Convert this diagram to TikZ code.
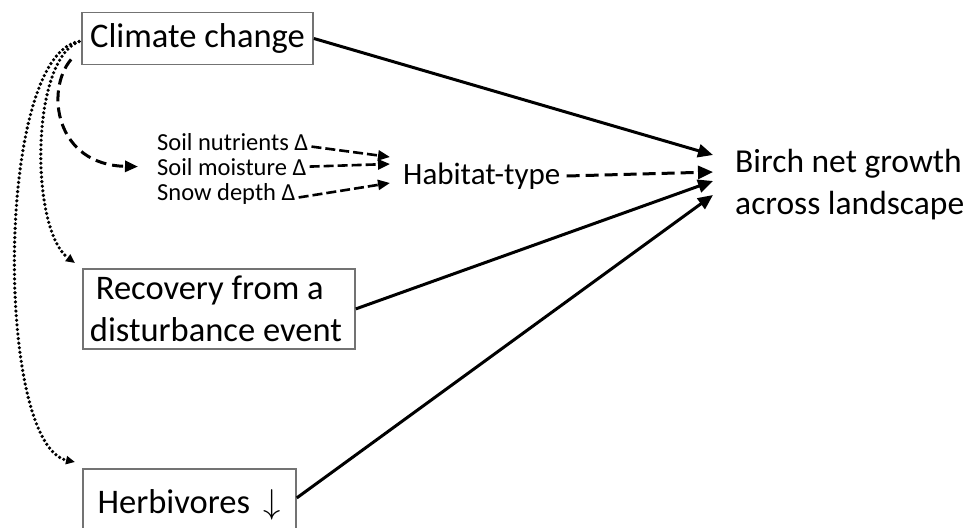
\RequirePackage{fix-cm}
\documentclass[tikz,border=0pt]{standalone}
\usepackage{fontspec}
\setmainfont{Carlito}
\usetikzlibrary{arrows.meta}
\begin{document}
\begin{tikzpicture}[x=1pt,y=-1pt,
  box/.style={draw=black!55,line width=1.8pt,rectangle,inner sep=0pt},
  bigtxt/.style={font=\fontsize{34.5}{42}\selectfont},
  smalltxt/.style={font=\fontsize{24.5}{25}\selectfont,inner sep=0pt},
  solidarrow/.style={line width=3pt,-{Triangle[length=15pt,width=13pt]}},
  dasharrow/.style={line width=3pt,dash pattern=on 13pt off 6pt,-{Triangle[length=15pt,width=13pt]}},
  smalldash/.style={line width=2.6pt,dash pattern=on 10pt off 4pt,-{Triangle[length=12pt,width=10pt]}},
  dotarrow/.style={line width=3.6pt,line cap=round,dash pattern=on 0pt off 4.6pt,-{Triangle[length=9pt,width=8pt]}}
]
\useasboundingbox (0,0) rectangle (971,527);

\node[box,bigtxt,minimum width=231,minimum height=52] (climate) at (197.5,38.5) {Climate change};
\node[box,bigtxt,anchor=north west,text width=258,inner xsep=7pt,inner ysep=0pt,minimum height=80,align=flush left] (recovery) at (82,268) {\hspace*{6pt}Recovery from a\\disturbance event};
\node[box,bigtxt,anchor=north west,minimum width=213,minimum height=72] (herb) at (82,468) {Herbivores\hspace{6pt} $\downarrow$};

\node[font=\fontsize{33.5}{42}\selectfont,anchor=west,inner sep=0pt,align=left] (birch) at (735,185) {Birch net growth\\across landscape};
\node[font=\fontsize{31}{36}\selectfont,anchor=west,inner sep=0pt] (habitat) at (403,176) {Habitat-type};

\node[smalltxt,anchor=base west] (nutr) at (157,150) {Soil nutrients Δ};
\node[smalltxt,anchor=base west] (moist) at (157,175) {Soil moisture Δ};
\node[smalltxt,anchor=base west] (snow) at (157,200) {Snow depth Δ};

\coordinate (t1) at (713,155);
\coordinate (t2) at (713,172);
\coordinate (t3) at (713,181);
\coordinate (t4) at (713,195);
\coordinate (h1) at (390,157);
\coordinate (h2) at (390,164);
\coordinate (h3) at (390,183);

\draw[solidarrow] (climate.east) -- (t1);
\draw[dasharrow] ([xshift=6pt]habitat.east) -- (t2);
\draw[solidarrow] (recovery.east) -- (t3);
\draw[solidarrow] ([yshift=7pt]herb.east) -- (t4);

\draw[smalldash] ([xshift=3pt,yshift=-5pt]nutr.east) -- (h1);
\draw[smalldash] ([xshift=3pt]moist.east) -- (h2);
\draw[smalldash] ([xshift=3pt,yshift=-4pt]snow.east) -- (h3);

\draw[line width=3pt,dash pattern=on 11pt off 6pt,-{Triangle[length=13pt,width=11pt]}]
  ([xshift=-10pt,yshift=6pt]climate.south west) .. controls (45,90) and (55,165) .. ([xshift=-19pt]moist.west);

\draw[dotarrow] ([xshift=-2pt,yshift=-3pt]climate.west) .. controls (30,60) and (30,230) .. ([xshift=-7pt,yshift=5pt]recovery.north west);
\draw[dotarrow] ([xshift=-2pt,yshift=-3pt]climate.west) .. controls (-5,55) and (-5,445) .. ([xshift=-7pt,yshift=6pt]herb.north west);
\end{tikzpicture}
\end{document}
